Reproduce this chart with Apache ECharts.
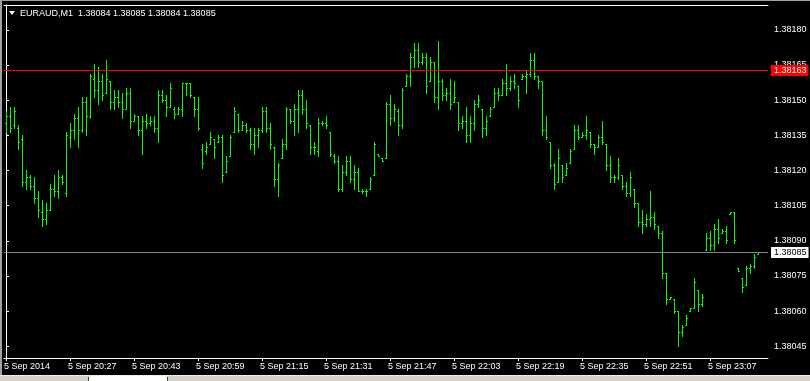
<!DOCTYPE html>
<html>
<head>
<meta charset="utf-8">
<script src="https://cdn.jsdelivr.net/npm/echarts@6/dist/echarts.min.js"></script>
<style>
html,body{margin:0;padding:0;background:#000;}
#chart{width:810px;height:381px;}
</style>
</head>
<body>
<div id="chart"></div>
<script>
// ---- data (prices as points above PRICE_BASE, 1 point = 0.00001) ----
const PRICE_BASE = 1.38000;
const symbolTitle = 'EURAUD,M1  1.38084 1.38085 1.38084 1.38085';
const tickIndex = [0, 16, 32, 48, 64, 80, 96, 112, 128, 144, 160, 176];
const tickLabels = ['5 Sep 2014', '5 Sep 20:27', '5 Sep 20:43', '5 Sep 20:59', '5 Sep 21:15', '5 Sep 21:31',
  '5 Sep 21:47', '5 Sep 22:03', '5 Sep 22:19', '5 Sep 22:35', '5 Sep 22:51', '5 Sep 23:07'];
const priceTicks = [1.38045, 1.38060, 1.38075, 1.38090, 1.38105, 1.38120, 1.38135, 1.38150, 1.38165, 1.38180];
const levelValues = [1.38085, 1.38163];
const levelColors = ['#778899', '#ff0000'];

const opens = [
  140,143,139,138,133,115,117,113,108,102,
  99,103,112,111,117,110,134,137,142,137,
  149,143,159,154,158,153,158,149,151,149,
  146,153,141,143,137,141,140,141,138,152,
  150,147,146,144,146,157,157,151,146,129,
  128,131,133,132,134,119,126,136,144,137,
  139,137,131,135,137,145,138,130,116,125,
  131,146,141,146,152,146,139,130,128,140,
  140,136,126,124,112,119,124,116,119,111,
  111,112,118,127,125,125,148,142,145,139,
  156,160,168,171,166,168,158,166,151,158,
  152,153,149,149,140,141,135,140,148,146,
  138,143,147,153,152,157,155,158,156,159,
  160,161,167,160,158,137,132,122,115,122,
  118,123,129,137,134,135,136,131,130,134,
  131,122,117,117,118,113,110,112,106,98,
  97,99,100,96,93,76,65,65,60,51,
  54,60,61,69,63,86,91,88,95,93,
  94,101,102,78,74,71,78,79,84];
const highs = [
  145,147,147,139,135,120,118,117,111,107,
  106,114,118,120,118,136,140,144,147,151,
  151,161,165,164,161,167,158,154,154,153,
  155,155,144,143,143,144,143,143,154,154,
  152,157,147,147,157,157,157,151,151,131,
  132,136,133,135,135,126,135,147,144,141,
  140,138,138,138,147,147,140,130,123,133,
  147,146,148,154,154,150,139,132,142,141,
  143,136,127,126,122,126,126,122,121,112,
  112,117,132,127,125,149,152,148,146,155,
  161,170,174,174,170,170,168,166,175,159,
  155,159,158,149,143,147,143,150,152,146,
  143,147,155,155,159,165,160,161,156,161,
  162,170,170,160,158,143,132,123,129,122,
  123,129,139,139,136,143,136,131,135,141,
  131,126,118,125,118,115,119,112,106,103,
  101,111,102,96,94,76,66,65,60,54,
  58,61,74,69,67,93,94,97,99,95,
  96,102,102,78,74,79,80,84,85];
const lows = [
  136,136,138,129,113,112,112,106,100,96,
  97,103,109,108,114,109,130,133,130,136,
  135,142,151,148,150,153,146,146,147,142,
  146,138,141,135,127,138,139,136,132,149,
  143,147,142,144,143,152,151,143,137,121,
  127,131,125,132,115,119,126,136,136,137,
  136,129,127,130,136,136,129,113,109,125,
  129,140,135,136,144,138,127,127,126,139,
  138,126,123,111,111,118,115,112,111,110,
  109,112,118,126,124,125,139,141,135,138,
  156,156,164,164,165,153,158,149,146,150,
  150,146,149,137,138,132,132,137,147,134,
  135,143,147,150,152,152,154,155,147,159,
  153,160,159,155,135,133,121,112,115,115,
  118,123,129,133,134,133,130,127,130,131,
  120,115,115,116,112,109,109,104,96,93,
  96,96,95,91,74,63,65,59,45,49,
  54,60,61,60,62,86,86,86,89,93,
  89,101,89,77,68,71,76,78,84];
const closes = [
  143,138,145,132,115,117,113,108,103,99,
  103,112,111,117,115,135,137,142,137,149,
  143,160,154,158,152,159,149,151,149,146,
  153,141,143,137,141,140,141,138,152,150,
  147,155,144,146,157,157,152,146,138,123,
  130,134,130,134,118,124,134,145,137,139,
  137,131,135,137,145,138,131,116,122,131,
  146,141,146,152,146,140,130,130,140,140,
  139,127,124,112,119,124,116,119,111,111,
  111,116,131,126,124,148,142,146,139,154,
  160,168,171,166,168,156,166,151,158,152,
  153,148,151,140,141,135,140,148,150,138,
  141,146,153,152,157,155,158,157,150,160,
  161,167,160,158,137,134,122,114,125,117,
  121,128,137,134,135,137,131,130,134,132,
  122,117,117,122,113,110,117,106,98,97,
  99,100,97,93,76,65,66,60,51,53,
  57,61,72,63,66,91,88,95,91,94,
  90,102,90,77,70,78,79,83,85];

// ---- build ----
const toPrice = p => +(PRICE_BASE + p / 100000).toFixed(5);
const ohlc = opens.map((o, i) => [i, toPrice(o), toPrice(highs[i]), toPrice(lows[i]), toPrice(closes[i])]);
const levels = levelValues.map((v, i) => [0, v, i]);

const GREEN = '#00ff00';
const FONT = 'Liberation Sans';

function seg(x1, y1, x2, y2, color) {
  return { type: 'line', shape: { x1: x1, y1: y1, x2: x2, y2: y2 },
    style: { stroke: color, lineWidth: 1, fill: null }, silent: true };
}
function renderBar(params, api) {
  const i = api.value(0);
  const po = api.coord([i, api.value(1)]);
  const ph = api.coord([i, api.value(2)]);
  const pl = api.coord([i, api.value(3)]);
  const pc = api.coord([i, api.value(4)]);
  const X = Math.floor(ph[0] + 0.01) + 0.5;
  const yh = Math.floor(ph[1]), yl = Math.floor(pl[1]);
  const yo = Math.floor(po[1]) + 0.5, yc = Math.floor(pc[1]) + 0.5;
  return {
    type: 'group',
    children: [
      seg(X, yh, X, Math.max(yh + 1, yl + 1), GREEN),
      seg(X - 1.5, yo, X - 0.5, yo, GREEN),
      seg(X + 0.5, yc, X + 1.5, yc, GREEN)
    ]
  };
}
function renderLevel(params, api) {
  const v = api.value(1);
  const idx = api.value(2);
  const cs = params.coordSys;
  const y = Math.floor(api.coord([0, v])[1] + 0.4) + 0.5;
  const x0 = cs.x, x1 = cs.x + cs.width;
  const isRed = idx === 1;
  return {
    type: 'group',
    children: [
      seg(x0, y, x1, y, levelColors[idx]),
      {
        type: 'text', silent: true,
        x: x1 + 3, y: Math.floor(y) - 5,
        style: {
          text: v.toFixed(5), fill: isRed ? '#ffffff' : '#000000',
          backgroundColor: isRed ? '#ff0000' : '#ffffff',
          font: '9px "Liberation Sans"', padding: [1, 2, 1, 3], lineHeight: 9,
          verticalAlign: 'top', align: 'left'
        }
      }
    ]
  };
}

const YMIN = 1.38040, YMAX = 1.3819057;
const XMIN = -0.5, XMAX = 190.5;

const chart = echarts.init(document.getElementById('chart'), null, { renderer: 'canvas', width: 810, height: 381 });
chart.setOption({
  animation: false,
  backgroundColor: '#000000',
  textStyle: { fontFamily: FONT },
  grid: { left: 4, right: 42, top: 5, bottom: 23 },
  xAxis: [{
    type: 'value', min: XMIN, max: XMAX, position: 'bottom',
    axisLine: { show: true, lineStyle: { color: '#ffffff', width: 1 } },
    axisTick: { show: true, customValues: tickIndex, length: 3, lineStyle: { color: '#ffffff' } },
    axisLabel: {
      show: true, customValues: tickIndex, color: '#ffffff', fontSize: 9, fontFamily: FONT,
      align: 'left', margin: 4, padding: [0, 0, 0, -2],
      formatter: v => { const k = tickIndex.indexOf(Math.round(v)); return k >= 0 ? tickLabels[k] : ''; }
    },
    splitLine: { show: false }
  }, {
    type: 'value', min: XMIN, max: XMAX, position: 'top',
    axisLine: { show: true, lineStyle: { color: '#ffffff', width: 1 } },
    axisTick: { show: false }, axisLabel: { show: false }, splitLine: { show: false }
  }],
  yAxis: [{
    type: 'value', min: YMIN, max: YMAX, position: 'right', scale: true,
    axisLine: { show: true, lineStyle: { color: '#ffffff', width: 1 } },
    axisTick: { show: true, customValues: priceTicks, length: 3, lineStyle: { color: '#ffffff' } },
    axisLabel: {
      show: true, customValues: priceTicks, color: '#ffffff', fontSize: 9, fontFamily: FONT, margin: 6,
      formatter: v => v.toFixed(5)
    },
    splitLine: { show: false }
  }, {
    type: 'value', min: YMIN, max: YMAX, position: 'left', scale: true,
    axisLine: { show: true, lineStyle: { color: '#ffffff', width: 1 } },
    axisTick: { show: false }, axisLabel: { show: false }, splitLine: { show: false }
  }],
  series: [{
    type: 'custom',
    name: 'EURAUD',
    renderItem: renderBar,
    data: ohlc,
    encode: { x: 0, y: [1, 2, 3, 4] },
    xAxisIndex: 0, yAxisIndex: 0,
    clip: false,
    silent: true,
    z: 2
  }, {
    type: 'custom',
    name: 'levels',
    renderItem: renderLevel,
    data: levels,
    encode: { x: 0, y: 1 },
    xAxisIndex: 0, yAxisIndex: 0,
    clip: false,
    silent: true,
    z: 10
  }],
  graphic: [
    { type: 'rect', left: 0, top: 0, shape: { width: 810, height: 1 }, style: { fill: '#a0a0a0' }, silent: true },
    { type: 'rect', left: 0, top: 0, shape: { width: 2, height: 376 }, style: { fill: '#a0a0a0' }, silent: true },
    { type: 'rect', left: 0, top: 375, shape: { width: 810, height: 6 }, style: { fill: '#d4d0c8' }, silent: true },
    { type: 'rect', left: 0, top: 375, shape: { width: 810, height: 1 }, style: { fill: '#f0f0f0' }, silent: true },
    { type: 'rect', left: 89, top: 376, shape: { width: 78, height: 5 }, style: { fill: '#ffffff' }, silent: true },
    { type: 'rect', left: 88, top: 377, shape: { width: 1, height: 4 }, style: { fill: '#404040' }, silent: true },
    { type: 'rect', left: 167, top: 377, shape: { width: 1, height: 4 }, style: { fill: '#404040' }, silent: true },
    { type: 'polygon', shape: { points: [[9, 11], [15, 11], [12, 15]] }, style: { fill: '#ffffff' }, silent: true },
    { type: 'text', left: 20, top: 9, style: { text: symbolTitle, fill: '#ffffff', font: '9px "Liberation Sans"' }, silent: true }
  ]
});
</script>
</body>
</html>
